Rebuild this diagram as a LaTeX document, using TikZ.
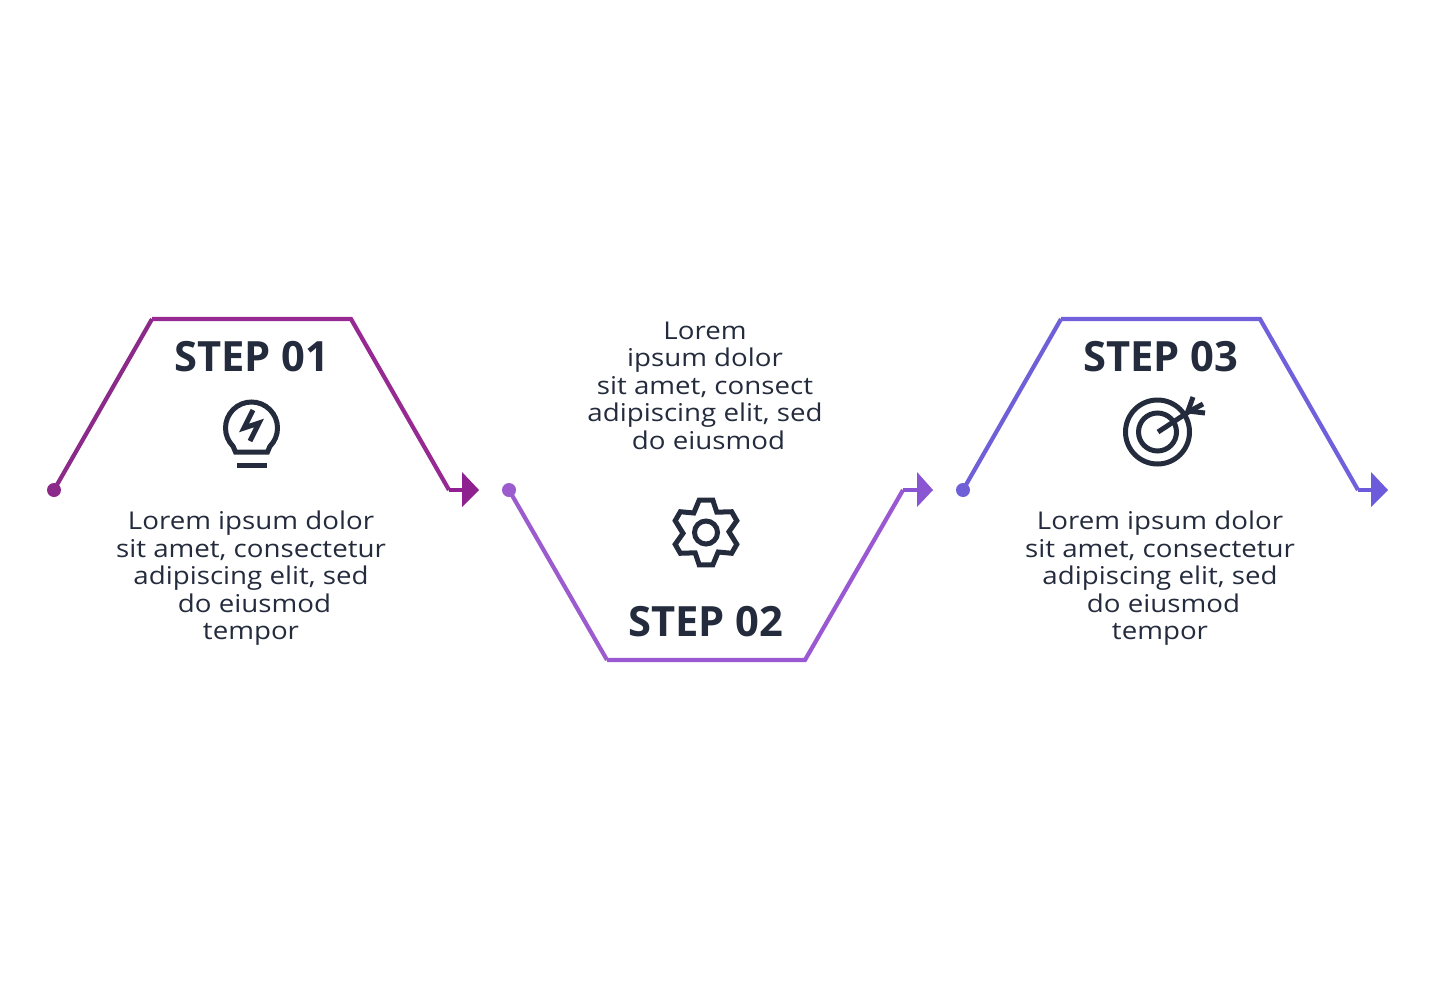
\documentclass[tikz,border=0pt]{standalone}
\usepackage{fontspec}
\setmainfont{Open Sans}
\newfontfamily\widefont[FakeStretch=1.13]{Open Sans}
\usetikzlibrary{calc}
\definecolor{ink}{HTML}{232B3C}
\definecolor{a1}{HTML}{8C2A8A}\definecolor{a2}{HTML}{962A92}\definecolor{a3}{HTML}{8E2090}
\definecolor{b1}{HTML}{9C5CCE}\definecolor{b2}{HTML}{9A58D2}\definecolor{b3}{HTML}{8A55D2}
\definecolor{c1}{HTML}{7060D8}\definecolor{c2}{HTML}{7060DC}\definecolor{c3}{HTML}{6C5CDC}
\tikzset{
 x=1pt,y=-1pt,
 dotnode/.style={circle,inner sep=0pt,minimum size=14pt},
 wire/.style={line width=4.2pt,line join=miter},
 titlenode/.style={font=\fontsize{41.7}{44}\selectfont\bfseries,text=ink,inner sep=0pt},
 bodynode/.style={font=\widefont\fontsize{24.5}{27.5}\selectfont,text=ink,align=center,inner sep=0pt},
 icon/.style={draw=ink,line width=5pt,line join=miter},
}
\begin{document}
\begin{tikzpicture}
\useasboundingbox (0,0) rectangle (1435,980);
% step 1
\node[dotnode,fill=a1] (d1) at (54,490) {};
\coordinate (p1a) at (152,319);\coordinate (p1b) at (351,319);\coordinate (p1c) at (449,490);
\coordinate (h1) at (464,490);
\fill[a3] (462,472) -- (479,490) -- (462,507) -- cycle;
\draw[wire,a1] (d1.center) -- (p1a);
\draw[wire,a2] (p1a) -- (p1b) -- (p1c);
\draw[wire,a3] (p1c) -- (h1);
% step 2
\node[dotnode,fill=b1] (d2) at (509,490) {};
\coordinate (p2a) at (607,660);\coordinate (p2b) at (805,660);\coordinate (p2c) at (903,490);
\coordinate (h2) at (919,490);
\fill[b3] (917,472) -- (933,490) -- (917,507) -- cycle;
\draw[wire,b1] (d2.center) -- (p2a);
\draw[wire,b2] (p2a) -- (p2b) -- (p2c);
\draw[wire,b3] (p2c) -- (h2);
% step 3
\node[dotnode,fill=c1] (d3) at (963,490) {};
\coordinate (p3a) at (1061,319);\coordinate (p3b) at (1260,319);\coordinate (p3c) at (1358,490);
\coordinate (h3) at (1373,490);
\fill[c3] (1371,472) -- (1388,490) -- (1371,507) -- cycle;
\draw[wire,c1] (d3.center) -- (p3a);
\draw[wire,c2] (p3a) -- (p3b) -- (p3c);
\draw[wire,c3] (p3c) -- (h3);
% titles
\node[titlenode] (t1) at (252,356.5) {STEP 01};
\node[titlenode] (t2) at (706,621.5) {STEP 02};
\node[titlenode] (t3) at (1161,356.5) {STEP 03};
% body
\node[bodynode] (b1) at (251,578.5) {Lorem ipsum dolor\\sit amet, consectetur\\adipiscing elit, sed\\\hspace*{7pt}do eiusmod\\tempor};
\node[bodynode] (b2) at (705,385.5) {Lorem\\ipsum dolor\\sit amet, consect\\adipiscing elit, sed\\\hspace*{7pt}do eiusmod};
\node[bodynode] (b3) at (1160,578.5) {Lorem ipsum dolor\\sit amet, consectetur\\adipiscing elit, sed\\\hspace*{7pt}do eiusmod\\tempor};
% bulb
\begin{scope}[shift={(251.5,428)},x=1pt,y=1pt]
\draw[icon] (-45:26) arc[start angle=-45,end angle=225,radius=26pt] -- (-16,-24) -- (16,-24) -- cycle;
\end{scope}
\draw[icon] (237,465.5) -- (267,465.5);
\draw[icon] (253,410) -- (244,428) -- (259,423) -- (250,441);
% gear
\begin{scope}[shift={(706,532.5)}]
\draw[icon] (78:33) -- (102:33) -- (118:23) -- (141:33) -- (159:33)
 -- (178:23) -- (201:33) -- (219:33) -- (238:23) -- (258:33) -- (282:33)
 -- (298:23) -- (321:33) -- (339:33) -- (358:23) -- (21:33) -- (39:33) -- (58:23) -- cycle;
\draw[icon] (0,0) circle[radius=11.5];
\end{scope}
% target
\draw[icon] (1157.5,432) circle[radius=32];
\draw[icon] (1157.5,432) circle[radius=19];
\draw[icon] (1158,432) -- (1190,411);
\draw[icon] (1193,397) -- (1188,411) -- (1205,413);
\draw[icon] (1203,404) -- (1190,411);
\end{tikzpicture}
\end{document}
